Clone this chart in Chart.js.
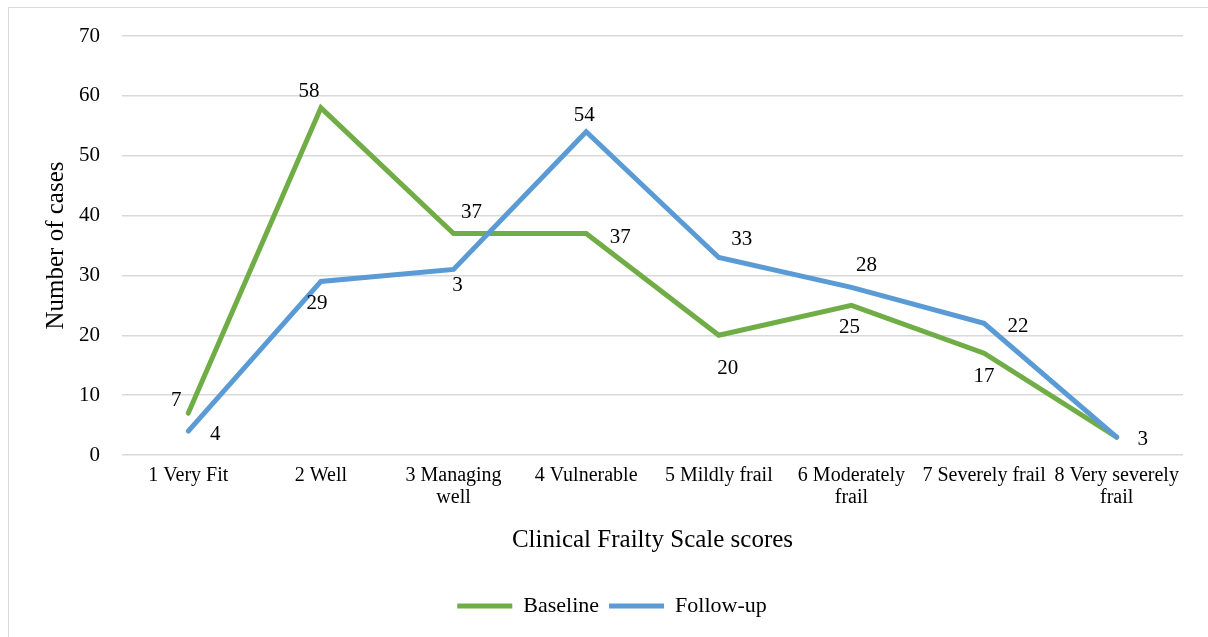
<!DOCTYPE html>
<html>
<head>
<meta charset="utf-8">
<script src="https://cdn.jsdelivr.net/npm/chart.js@4/dist/chart.umd.min.js"></script>
<style>
  html, body { margin: 0; padding: 0; background: #ffffff; overflow: hidden; }
  #frame { position: absolute; left: 8px; top: 7px; width: 1300px; height: 700px;
           border-left: 1.5px solid #d9d9d9; border-top: 1.5px solid #d9d9d9; }
  #wrap { position: absolute; left: 0; top: 0; width: 1208px; height: 637px; }
</style>
</head>
<body>
<div id="frame"></div>
<div id="wrap"><canvas id="c" width="1208" height="637"></canvas></div>
<script>
// ---- data ----
const categories = [
  '1 Very Fit',
  '2 Well',
  ['3 Managing', 'well'],
  '4 Vulnerable',
  '5 Mildly frail',
  ['6 Moderately', 'frail'],
  '7 Severely frail',
  ['8 Very severely', 'frail']
];
const baselineValues = [7, 58, 37, 37, 20, 25, 17, 3];
const followUpValues = [4, 29, 31, 54, 33, 28, 22, 3];
const baselineLabels = ['7', '58', '37', '37', '20', '25', '17', '3'];
const followUpLabels = ['4', '29', '3', '54', '33', '28', '22', ''];
const yTicks = [0, 10, 20, 30, 40, 50, 60, 70];

// ---- label placement (style: pixel offsets from each point) ----
const baselineLabelOffsets = [[-12,-13],[-12,-16],[18,-21],[34,4],[9,33],[-2,22],[0,23],[26,2]];
const followUpLabelOffsets = [[27,3],[-4,22],[4,16],[-2,-16],[23,-18],[15,-22],[34,3],[0,0]];

const serif = "'Liberation Serif', 'Times New Roman', serif";

const labelPlugin = {
  id: 'pointLabels',
  afterDatasetsDraw(chart) {
    const ctx = chart.ctx;
    ctx.save();
    ctx.font = '21px ' + serif;
    ctx.fillStyle = '#000000';
    ctx.textAlign = 'center';
    ctx.textBaseline = 'middle';
    chart.data.datasets.forEach((ds, di) => {
      const meta = chart.getDatasetMeta(di);
      meta.data.forEach((pt, i) => {
        const txt = ds.pointLabels[i];
        if (!txt) return;
        const off = ds.pointLabelOffsets[i];
        ctx.fillText(txt, pt.x + off[0], pt.y + off[1]);
      });
    });
    ctx.restore();
  }
};

new Chart(document.getElementById('c'), {
  type: 'line',
  data: {
    labels: categories,
    datasets: [
      {
        label: 'Baseline',
        data: baselineValues,
        pointLabels: baselineLabels,
        pointLabelOffsets: baselineLabelOffsets,
        borderColor: '#70AD47',
        backgroundColor: '#70AD47',
        borderWidth: 5,
        borderCapStyle: 'round',
        pointRadius: 0,
        pointHoverRadius: 0,
        tension: 0,
        order: 1
      },
      {
        label: 'Follow-up',
        data: followUpValues,
        pointLabels: followUpLabels,
        pointLabelOffsets: followUpLabelOffsets,
        borderColor: '#5B9BD5',
        backgroundColor: '#5B9BD5',
        borderWidth: 5,
        borderCapStyle: 'round',
        pointRadius: 0,
        pointHoverRadius: 0,
        tension: 0,
        order: 0
      }
    ]
  },
  options: {
    responsive: false,
    animation: false,
    devicePixelRatio: 1,
    layout: { padding: { left: 41, right: 25, top: 36, bottom: 10 } },
    plugins: {
      tooltip: { enabled: false },
      legend: {
        position: 'bottom',
        labels: {
          usePointStyle: true,
          pointStyle: 'line',
          pointStyleWidth: 55,
          padding: 10,
          color: '#000000',
          font: { family: serif, size: 22 },
          sort: (a, b) => a.datasetIndex - b.datasetIndex
        }
      }
    },
    scales: {
      x: {
        offset: true,
        grid: { display: false, drawTicks: false },
        border: { display: false },
        ticks: {
          color: '#000000',
          font: { family: serif, size: 20, lineHeight: 1.1 },
          padding: 10,
          maxRotation: 0,
          autoSkip: false
        },
        title: {
          display: true,
          text: 'Clinical Frailty Scale scores',
          color: '#000000',
          font: { family: serif, size: 25, lineHeight: 1.2 },
          padding: { top: 0, bottom: 30 }
        },
        afterFit(scale) { scale.height = 130; }
      },
      y: {
        min: 0,
        max: 70,
        afterBuildTicks(scale) { scale.ticks = yTicks.map(v => ({ value: v })); },
        grid: { color: '#d9d9d9', lineWidth: 1.5, drawTicks: false },
        border: { display: false },
        ticks: {
          color: '#000000',
          font: { family: serif, size: 21 },
          padding: 22
        },
        title: {
          display: true,
          text: 'Number of cases',
          color: '#000000',
          font: { family: serif, size: 25, lineHeight: 1.2 },
          padding: { top: 0, bottom: 0 }
        },
        afterFit(scale) { scale.width = 122 - 41; }
      }
    }
  },
  plugins: [labelPlugin]
});
</script>
</body>
</html>
